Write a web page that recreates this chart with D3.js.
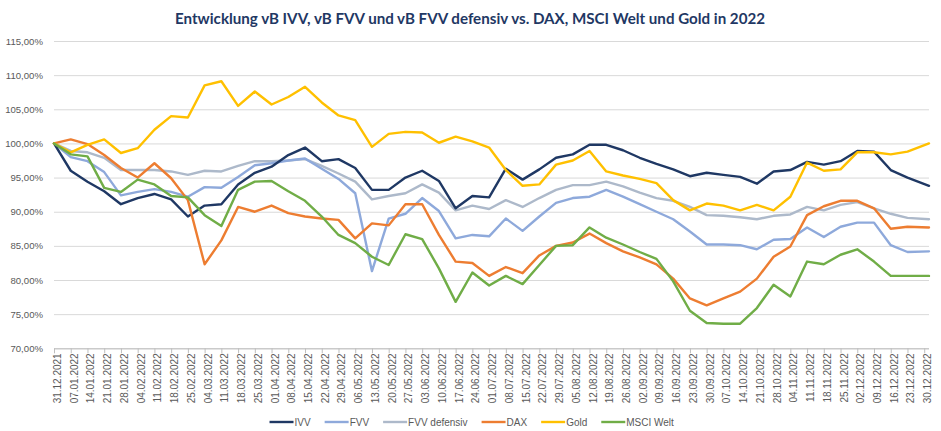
<!DOCTYPE html>
<html>
<head>
<meta charset="utf-8">
<script src="https://cdn.jsdelivr.net/npm/d3@7"></script>
<style>
  html, body { margin: 0; padding: 0; background: #fff; }
  svg { display: block; }
</style>
</head>
<body>
<div id="chart"></div>
<script>
// ---------- data ----------
const tickLabels = [
  "31.12.2021","07.01.2022","14.01.2022","21.01.2022","28.01.2022","04.02.2022","11.02.2022","18.02.2022",
  "25.02.2022","04.03.2022","11.03.2022","18.03.2022","25.03.2022","01.04.2022","08.04.2022","15.04.2022",
  "22.04.2022","29.04.2022","06.05.2022","13.05.2022","20.05.2022","27.05.2022","03.06.2022","10.06.2022",
  "17.06.2022","24.06.2022","01.07.2022","08.07.2022","15.07.2022","22.07.2022","29.07.2022","05.08.2022",
  "12.08.2022","19.08.2022","26.08.2022","02.09.2022","09.09.2022","16.09.2022","23.09.2022","30.09.2022",
  "07.10.2022","14.10.2022","21.10.2022","28.10.2022","04.11.2022","11.11.2022","18.11.2022","25.11.2022",
  "02.12.2022","09.12.2022","16.12.2022","23.12.2022","30.12.2022"
];
// data point dates (last observation plotted at the right edge of the axis)
const dataDates = tickLabels.slice(0, -1).concat(["01.01.2023"]);

const yTicks = [70, 75, 80, 85, 90, 95, 100, 105, 110, 115];

const IVV = [100,96.0,94.4,93.0,91.1,92.0,92.6,91.8,89.3,90.9,91.1,94.0,95.7,96.6,98.3,99.4,97.4,97.7,96.4,93.2,93.2,95.0,96.0,94.5,90.5,92.3,92.1,96.3,94.7,96.2,97.9,98.4,99.8,99.8,99.0,97.9,97.0,96.2,95.2,95.7,95.4,95.1,94.1,95.9,96.1,97.3,96.9,97.4,98.9,98.8,96.1,95.0,93.8];
const FVV = [100,98.0,97.4,95.8,92.4,92.9,93.3,92.9,92.2,93.6,93.5,95.1,96.8,97.1,97.5,97.8,96.3,94.8,92.7,81.3,89.0,89.7,92.0,90.1,86.1,86.6,86.4,89.0,87.2,89.3,91.3,92.0,92.2,93.2,92.2,91.1,90.0,88.9,87.1,85.2,85.2,85.1,84.5,85.9,86.0,87.7,86.3,87.8,88.4,88.4,85.1,84.1,84.2];
const FVVdef = [100,98.9,98.7,97.9,96.1,96.1,96.1,95.9,95.4,96.0,95.9,96.7,97.4,97.4,97.5,97.7,96.7,95.6,94.4,91.8,92.3,92.7,94.0,92.8,90.2,90.9,90.4,91.7,90.7,92.0,93.2,93.9,93.9,94.4,93.7,92.8,92.0,91.6,90.7,89.5,89.4,89.2,88.9,89.4,89.6,90.7,90.2,91.0,91.4,90.5,89.7,89.1,88.9];
const DAX = [100,100.6,99.9,98.3,96.4,95.0,97.1,94.9,91.7,82.3,85.8,90.7,90.0,90.9,89.8,89.3,89.0,88.8,86.1,88.3,88.0,91.1,91.1,86.6,82.7,82.5,80.6,81.9,81.0,83.6,85.0,85.5,86.8,85.4,84.2,83.3,82.3,80.2,77.3,76.3,77.3,78.3,80.2,83.4,84.9,89.5,90.8,91.6,91.6,90.5,87.5,87.8,87.7];
const Gold = [100,98.7,99.8,100.6,98.6,99.3,102.0,104.0,103.8,108.5,109.1,105.5,107.6,105.7,106.8,108.3,106.0,104.1,103.4,99.5,101.4,101.7,101.6,100.1,101.0,100.3,99.4,96.1,93.8,94.0,96.9,97.5,98.9,95.9,95.3,94.8,94.2,91.7,90.2,91.2,90.9,90.2,91.0,90.2,92.2,97.2,96.0,96.2,98.7,98.7,98.4,98.8,100.0];
const MSCI = [100,98.4,98.1,93.5,92.9,94.7,94.0,92.3,92.1,89.5,87.9,93.2,94.4,94.5,93.0,91.6,89.3,86.6,85.4,83.4,82.2,86.7,86.0,81.7,76.8,81.1,79.2,80.6,79.4,82.2,85.0,85.1,87.7,86.2,85.2,84.1,83.1,79.8,75.5,73.7,73.6,73.6,75.9,79.3,77.6,82.7,82.3,83.7,84.5,82.7,80.6,80.6,80.6];

const seriesNames = ["IVV", "FVV", "FVV defensiv", "DAX", "Gold", "MSCI Welt"];
const seriesValues = [IVV, FVV, FVVdef, DAX, Gold, MSCI];
const seriesColors = ["#1F3864", "#8EA9DB", "#ADB9CA", "#ED7D31", "#FFC000", "#70AD47"];

const titleText = "Entwicklung vB IVV, vB FVV und vB FVV defensiv vs. DAX, MSCI Welt und Gold in 2022";

// ---------- layout ----------
const W = 941, H = 431;
const plotL = 54, plotR = 929, plotT = 41, plotB = 348.3;
const parse = d3.utcParse("%d.%m.%Y");

const svg = d3.select("#chart").append("svg")
  .attr("width", W).attr("height", H)
  .style("font-family", "'Liberation Sans', Arial, sans-serif");

const x = d3.scaleUtc()
  .domain([parse("31.12.2021"), parse("01.01.2023")])
  .range([plotL, plotR]);
const y = d3.scaleLinear().domain([70, 115]).range([plotB, plotT]);

// title
svg.append("text")
  .attr("x", 470).attr("y", 24)
  .attr("text-anchor", "middle")
  .attr("font-family", "Lato, 'Open Sans', sans-serif")
  .attr("font-weight", "bold")
  .attr("font-size", 15)
  .attr("fill", "#1F3864")
  .attr("textLength", 590)
  .attr("lengthAdjust", "spacingAndGlyphs")
  .text(titleText);

// gridlines + y labels
const yAxis = d3.axisLeft(y).tickValues(yTicks)
  .tickSize(-(plotR - plotL))
  .tickFormat(d => d3.format(".2f")(d).replace(".", ",") + "%");
const gy = svg.append("g").attr("transform", `translate(${plotL},0)`).call(yAxis);
gy.select(".domain").remove();
gy.selectAll(".tick line").attr("stroke", "#D9D9D9").attr("stroke-width", 1);
gy.selectAll(".tick text").attr("x", -11).attr("fill", "#595959").attr("font-size", 9.6)
  .attr("font-family", "'Liberation Sans', Arial, sans-serif");

// x axis
const tickDates = tickLabels.map(parse);
const xAxis = d3.axisBottom(x).tickValues(tickDates).tickSize(5).tickFormat(d3.utcFormat("%d.%m.%Y"));
const gx = svg.append("g").attr("transform", `translate(0,${plotB})`).call(xAxis);
gx.select(".domain").attr("stroke", "#BFBFBF").attr("d", `M${plotL},0.5H${plotR}`);
gx.selectAll(".tick line").attr("stroke", "#BFBFBF");
gx.selectAll(".tick text")
  .attr("fill", "#595959").attr("font-size", 10)
  .attr("font-family", "'Liberation Sans', Arial, sans-serif")
  .attr("text-anchor", "end")
  .attr("transform", "translate(3,5) rotate(-90)")
  .attr("x", 0).attr("y", 0).attr("dy", "0.35em");

// lines
const line = d3.line()
  .x((d, i) => x(parse(dataDates[i])))
  .y(d => y(d));

const drawOrder = [2, 1, 0, 3, 4, 5];
drawOrder.forEach(k => {
  svg.append("path")
    .datum(seriesValues[k])
    .attr("fill", "none")
    .attr("stroke", seriesColors[k])
    .attr("stroke-width", 2.4)
    .attr("stroke-linejoin", "round")
    .attr("stroke-linecap", "round")
    .attr("d", line);
});

// legend
const lg = svg.append("g");
let cx = 0;
seriesNames.forEach((name, k) => {
  const g = lg.append("g").attr("transform", `translate(${cx},0)`);
  g.append("line").attr("x1", 0).attr("x2", 24).attr("y1", 0).attr("y2", 0)
    .attr("stroke", seriesColors[k]).attr("stroke-width", 2.4);
  const t = g.append("text").attr("x", 25).attr("y", 0).attr("dy", "0.35em")
    .attr("font-size", 10).attr("fill", "#595959").text(name);
  cx += 25 + t.node().getComputedTextLength() + 14;
});
const totalW = cx - 14;
lg.attr("transform", `translate(${471.7 - totalW / 2},422)`);
</script>
</body>
</html>
